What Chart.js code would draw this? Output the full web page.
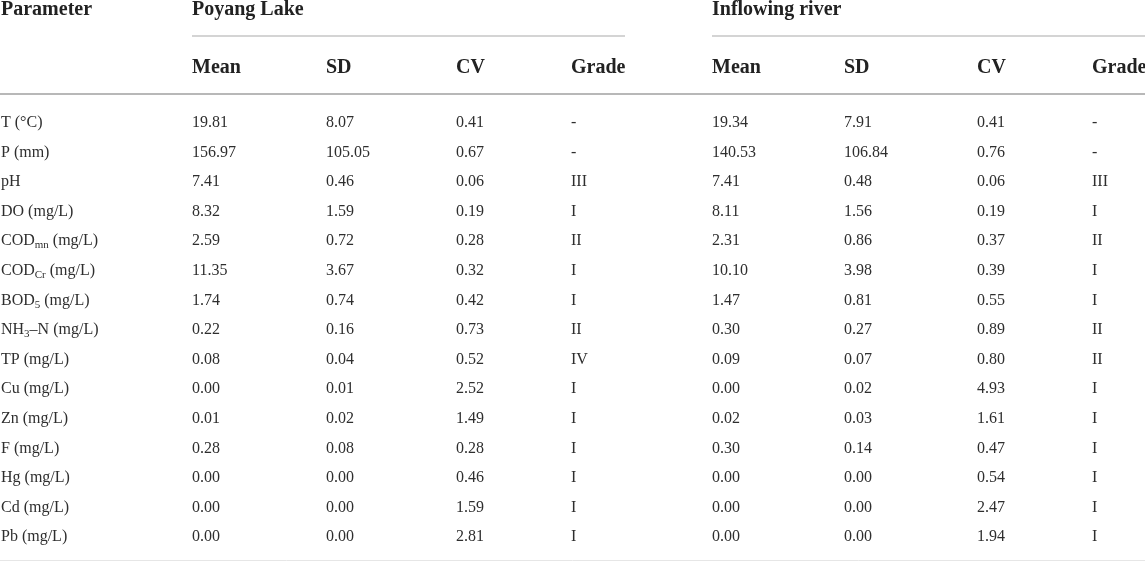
<!DOCTYPE html>
<html>
<head>
<meta charset="utf-8">
<script src="https://cdn.jsdelivr.net/npm/chart.js@4.4.1/dist/chart.umd.min.js"></script>
<style>
  html, body { margin: 0; padding: 0; background: #fff; }
  #wrap { position: relative; width: 1145px; height: 562px; }
</style>
</head>
<body>
<div id="wrap"><canvas id="tbl"></canvas></div>
<script>
// table content
const params = ["T (°C)", "P (mm)", "pH", "DO (mg/L)", "COD_{mn} (mg/L)", "COD_{Cr} (mg/L)",
  "BOD_{5} (mg/L)", "NH_{3}–N (mg/L)", "TP (mg/L)", "Cu (mg/L)", "Zn (mg/L)", "F (mg/L)",
  "Hg (mg/L)", "Cd (mg/L)", "Pb (mg/L)"];
const groups = ["Poyang Lake", "Inflowing river"];
const colNames = ["Mean", "SD", "CV", "Grade"];

const lakeMean = [19.81, 156.97, 7.41, 8.32, 2.59, 11.35, 1.74, 0.22, 0.08, 0.00, 0.01, 0.28, 0.00, 0.00, 0.00];
const lakeSD = [8.07, 105.05, 0.46, 1.59, 0.72, 3.67, 0.74, 0.16, 0.04, 0.01, 0.02, 0.08, 0.00, 0.00, 0.00];
const lakeCV = [0.41, 0.67, 0.06, 0.19, 0.28, 0.32, 0.42, 0.73, 0.52, 2.52, 1.49, 0.28, 0.46, 1.59, 2.81];
const lakeGrade = ["-", "-", "III", "I", "II", "I", "I", "II", "IV", "I", "I", "I", "I", "I", "I"];

const riverMean = [19.34, 140.53, 7.41, 8.11, 2.31, 10.10, 1.47, 0.30, 0.09, 0.00, 0.02, 0.30, 0.00, 0.00, 0.00];
const riverSD = [7.91, 106.84, 0.48, 1.56, 0.86, 3.98, 0.81, 0.27, 0.07, 0.02, 0.03, 0.14, 0.00, 0.00, 0.00];
const riverCV = [0.41, 0.76, 0.06, 0.19, 0.37, 0.39, 0.55, 0.89, 0.80, 4.93, 1.61, 0.47, 0.54, 2.47, 1.94];
const riverGrade = ["-", "-", "III", "I", "II", "I", "I", "II", "II", "I", "I", "I", "I", "I", "I"];

// layout (x in px units of the x scale, y in row units of the y scale)
const paramX = 1;
const colX = [192, 326, 456, 571, 712, 844, 977, 1092];
const groupSpan = [[192, 625], [712, 1145]];
const groupRow = -3.767, groupLineRow = -3.074, headRow = -1.834, headLineRow = -1.115, endLineRow = 14.645;

const bodyFont = '16px "Liberation Serif"';
const subFont = '11px "Liberation Serif"';
const headFont = 'bold 20px "Liberation Serif"';

const columns = [
  { labels: params },
  { labels: lakeMean.map(v => v.toFixed(2)) },
  { labels: lakeSD.map(v => v.toFixed(2)) },
  { labels: lakeCV.map(v => v.toFixed(2)) },
  { labels: lakeGrade },
  { labels: riverMean.map(v => v.toFixed(2)) },
  { labels: riverSD.map(v => v.toFixed(2)) },
  { labels: riverCV.map(v => v.toFixed(2)) },
  { labels: riverGrade }
];

const datasets = columns.map((c, k) => ({
  labels: c.labels,
  data: c.labels.map((_, i) => ({ x: k === 0 ? paramX : colX[k - 1], y: i })),
  pointRadius: 0,
  showLine: false
}));

// draws "COD_{mn}" style strings with subscripts
function drawRich(ctx, str, x, y) {
  const parts = str.split(/_\{([^}]*)\}/);
  let cx = x;
  parts.forEach((p, i) => {
    if (!p) return;
    if (i % 2 === 1) {
      ctx.font = subFont;
      ctx.fillText(p, cx, y + 3);
    } else {
      ctx.font = bodyFont;
      ctx.fillText(p, cx, y);
    }
    cx += ctx.measureText(p).width;
  });
}

const tablePlugin = {
  id: 'tableText',
  afterDatasetsDraw(chart) {
    const ctx = chart.ctx;
    const sx = chart.scales.x, sy = chart.scales.y;
    ctx.save();
    ctx.textAlign = 'left';
    ctx.textBaseline = 'alphabetic';

    // rules
    ctx.strokeStyle = '#a9a9a9';
    ctx.lineWidth = 1.2;
    groupSpan.forEach(s => {
      const y = sy.getPixelForValue(groupLineRow);
      ctx.beginPath();
      ctx.moveTo(sx.getPixelForValue(s[0]), y);
      ctx.lineTo(sx.getPixelForValue(s[1]), y);
      ctx.stroke();
    });
    ctx.strokeStyle = '#b8b8b8';
    ctx.lineWidth = 2;
    let y = sy.getPixelForValue(headLineRow);
    ctx.beginPath(); ctx.moveTo(sx.left, y); ctx.lineTo(sx.right, y); ctx.stroke();
    ctx.strokeStyle = '#e6e6e6';
    ctx.lineWidth = 1;
    y = sy.getPixelForValue(endLineRow);
    ctx.beginPath(); ctx.moveTo(sx.left, y); ctx.lineTo(sx.right, y); ctx.stroke();

    // headers
    ctx.fillStyle = '#222';
    ctx.font = headFont;
    ctx.fillText('Parameter', sx.getPixelForValue(paramX), sy.getPixelForValue(groupRow));
    groups.forEach((g, gi) => {
      ctx.fillText(g, sx.getPixelForValue(groupSpan[gi][0]), sy.getPixelForValue(groupRow));
    });
    colX.forEach((cx, k) => {
      ctx.fillText(colNames[k % 4], sx.getPixelForValue(cx), sy.getPixelForValue(headRow));
    });

    // cells
    ctx.fillStyle = '#2e2e2e';
    chart.data.datasets.forEach((ds, di) => {
      chart.getDatasetMeta(di).data.forEach((el, i) => {
        drawRich(ctx, ds.labels[i], el.x, el.y);
      });
    });
    ctx.restore();
  }
};

new Chart(document.getElementById('tbl'), {
  type: 'scatter',
  data: { datasets: datasets },
  options: {
    responsive: true,
    maintainAspectRatio: false,
    animation: false,
    layout: { padding: 0 },
    plugins: { legend: { display: false }, tooltip: { enabled: false } },
    scales: {
      x: { type: 'linear', min: 0, max: 1145, display: false },
      y: { type: 'linear', min: -4.2905, max: 14.696, reverse: true, display: false }
    }
  },
  plugins: [tablePlugin]
});
</script>
</body>
</html>
